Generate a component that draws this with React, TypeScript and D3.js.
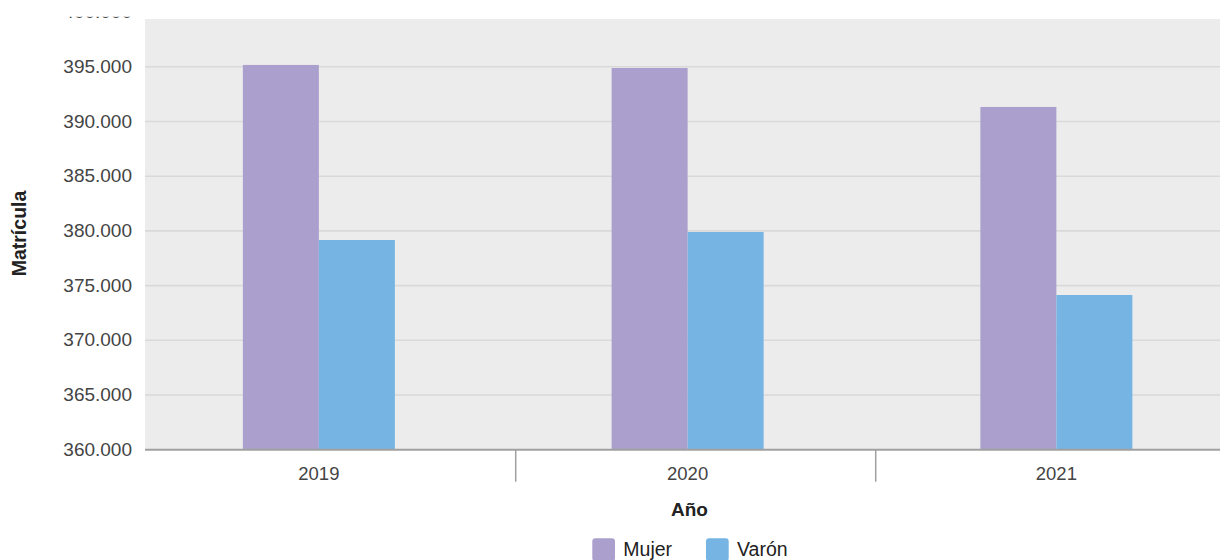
import React from "react";
import * as d3 from "d3";

const years = ["2019", "2020", "2021"];
const seriesNames = ["Mujer", "Varón"];
const mujer = [395170, 394890, 391330];
const varon = [379170, 379900, 374140];
const colors = ["#aba0cd", "#76b5e3"];
const yTicks = [360000, 365000, 370000, 375000, 380000, 385000, 390000, 395000, 400000];

const W = 1220;
const H = 560;
const plotLeft = 145;
const plotTop = 19;
const plotBottom = 449.7;

export default function App() {
  const y = d3.scaleLinear().domain([360000, 400000]).range([plotBottom, 12.1]);
  const x = d3.scaleBand<string>().domain(years).range([134.5, 1240.75]).padding(0);
  const sub = d3
    .scaleBand<string>()
    .domain(seriesNames)
    .range([(x.bandwidth() - 152) / 2, (x.bandwidth() + 152) / 2]);
  const sepScale = d3.scaleBand<string>().domain(years).range([155.7, 1235.7]);
  const fmt = (v: number) => d3.format(",")(v).replace(/,/g, ".");
  const data = [mujer, varon];
  const font = "'Liberation Sans', Arial, sans-serif";

  return (
    <svg
      width={W}
      height={H}
      style={{ position: "absolute", left: 0, top: 0, fontFamily: font }}
    >
      <defs>
        <clipPath id="plotClip">
          <rect x={plotLeft} y={plotTop} width={W - plotLeft} height={plotBottom - plotTop} />
        </clipPath>
        <clipPath id="labelClip">
          <rect x={0} y={16.7} width={plotLeft} height={H} />
        </clipPath>
      </defs>
      <rect x={plotLeft} y={plotTop} width={W - plotLeft} height={plotBottom - plotTop} fill="#ececec" />
      <g clipPath="url(#plotClip)">
        {yTicks.map((t) => (
          <line key={t} x1={plotLeft} x2={W} y1={y(t)} y2={y(t)} stroke="#d9d9d9" strokeWidth={1.6} />
        ))}
        {years.map((yr, i) => (
          <g key={yr} transform={`translate(${x(yr)},0)`}>
            {seriesNames.map((s, j) => (
              <rect
                key={s}
                x={sub(s)}
                width={sub.bandwidth()}
                y={y(data[j][i])}
                height={plotBottom - y(data[j][i])}
                fill={colors[j]}
              />
            ))}
          </g>
        ))}
      </g>
      <g clipPath="url(#labelClip)">
        {yTicks.map((t) => (
          <text
            key={t}
            x={132}
            y={y(t) + 6}
            textAnchor="end"
            fontSize={19}
            fill="#444"
          >
            {fmt(t)}
          </text>
        ))}
      </g>
      <line x1={plotLeft} x2={W} y1={plotBottom} y2={plotBottom} stroke="#a0a0a0" strokeWidth={2} />
      {years.slice(1).map((yr) => (
        <line
          key={yr}
          x1={sepScale(yr)}
          x2={sepScale(yr)}
          y1={plotBottom}
          y2={481.7}
          stroke="#a0a0a0"
          strokeWidth={1.5}
        />
      ))}
      {years.map((yr) => (
        <text
          key={yr}
          x={(x(yr) as number) + x.bandwidth() / 2}
          y={479.5}
          textAnchor="middle"
          fontSize={18.5}
          fill="#444"
        >
          {yr}
        </text>
      ))}
      <text
        transform={`translate(26,233.5) rotate(-90)`}
        textAnchor="middle"
        fontSize={19.5}
        fontWeight="bold"
        fill="#222"
      >
        Matrícula
      </text>
      <text x={689.5} y={515.7} textAnchor="middle" fontSize={19} fontWeight="bold" fill="#222">
        Año
      </text>
      {seriesNames.map((s, j) => {
        const lx = j === 0 ? 592.3 : 706;
        return (
          <g key={s}>
            <rect x={lx} y={538.3} width={22.7} height={22.7} rx={3} fill={colors[j]} />
            <text x={lx + 31} y={556} fontSize={19.5} fill="#222">
              {s}
            </text>
          </g>
        );
      })}
    </svg>
  );
}
